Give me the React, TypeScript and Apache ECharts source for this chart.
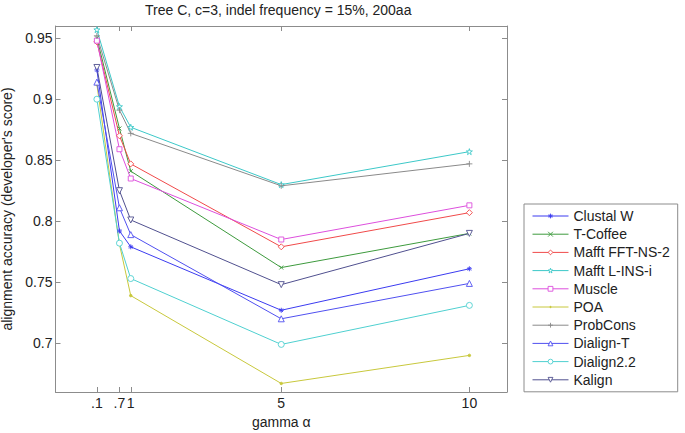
import React, { useEffect, useRef } from "react";
import * as echarts from "echarts";

const titleText = "Tree C, c=3, indel frequency = 15%, 200aa";
const xLabel = "gamma α";
const yLabel = "alignment accuracy (developer's score)";

const gammaValues = [0.1, 0.7, 1, 5, 10];
const yTicks = [0.7, 0.75, 0.8, 0.85, 0.9, 0.95];

const clustalW = [0.924, 0.792, 0.779, 0.727, 0.761];
const tCoffee = [0.95, 0.876, 0.841, 0.762, 0.79];
const mafftFFT = [0.947, 0.87, 0.847, 0.779, 0.807];
const mafftLINSi = [0.957, 0.894, 0.877, 0.83, 0.857];
const muscle = [0.948, 0.859, 0.835, 0.785, 0.813];
const poa = [0.912, 0.781, 0.739, 0.667, 0.69];
const probCons = [0.952, 0.891, 0.872, 0.829, 0.847];
const dialignT = [0.914, 0.811, 0.789, 0.72, 0.749];
const dialign22 = [0.9, 0.782, 0.753, 0.699, 0.731];
const kalign = [0.926, 0.825, 0.801, 0.748, 0.79];

const seriesNames = [
  "Clustal W",
  "T-Coffee",
  "Mafft FFT-NS-2",
  "Mafft L-INS-i",
  "Muscle",
  "POA",
  "ProbCons",
  "Dialign-T",
  "Dialign2.2",
  "Kalign",
];
const seriesValues = [clustalW, tCoffee, mafftFFT, mafftLINSi, muscle, poa, probCons, dialignT, dialign22, kalign];
const seriesColors = [
  "#3b3bf0",
  "#3d9a3d",
  "#f04a4a",
  "#3cc8c8",
  "#dd4fdd",
  "#c8c83c",
  "#8a8a8a",
  "#5050f0",
  "#4fd0d0",
  "#50508f",
];

const ASTERISK = "path://M5,0L5,10M0,5L10,5M1.5,1.5L8.5,8.5M1.5,8.5L8.5,1.5";
const XMARK = "path://M0,0L10,10M0,10L10,0";
const PLUS = "path://M5,0L5,10M0,5L10,5";
const STAR = "path://M5,0L6.18,3.82L10,3.82L6.91,6.18L8.09,10L5,7.64L1.91,10L3.09,6.18L0,3.82L3.82,3.82Z";
const DOT = "path://M0,0L0,0M10,10L10,10M3.6,5A1.4,1.4,0,1,1,6.4,5A1.4,1.4,0,1,1,3.6,5Z";
const DIAMOND = "path://M5,0L10,5L5,10L0,5Z";
const SQUARE = "path://M0,0L10,0L10,10L0,10Z";
const TRI_UP = "path://M5,0L10,9L0,9Z";
const TRI_DOWN = "path://M0,0L10,0L5,9Z";
const CIRCLE = "path://M0,5A5,5,0,1,1,10,5A5,5,0,1,1,0,5Z";

type MarkerDef = { symbol: string; size: number; hollow: boolean };
const markers: MarkerDef[] = [
  { symbol: ASTERISK, size: 5, hollow: false },
  { symbol: XMARK, size: 4, hollow: false },
  { symbol: DIAMOND, size: 6, hollow: true },
  { symbol: STAR, size: 6, hollow: true },
  { symbol: SQUARE, size: 5, hollow: true },
  { symbol: DOT, size: 9, hollow: false },
  { symbol: PLUS, size: 6, hollow: false },
  { symbol: TRI_UP, size: 6, hollow: true },
  { symbol: CIRCLE, size: 6, hollow: true },
  { symbol: TRI_DOWN, size: 6, hollow: true },
];

const axisColor = "#8c8c8c";
const font = "'Liberation Sans', Arial, sans-serif";

export default function App() {
  const ref = useRef<HTMLDivElement>(null);
  useEffect(() => {
    if (!ref.current) return;
    const chart = echarts.init(ref.current, undefined, { renderer: "svg" });
    const series = seriesNames.map((name, i) => {
      const c = seriesColors[i];
      const m = markers[i];
      return {
        type: "line",
        name,
        data: gammaValues.map((g, j) => [g, seriesValues[i][j]]),
        symbol: m.symbol,
        symbolSize: m.size,
        showAllSymbol: true,
        lineStyle: { color: c, width: 1 },
        itemStyle: { color: m.hollow ? "#fff" : c, borderColor: c, borderWidth: 0.9 },
        emphasis: { disabled: true },
        z: 2,
      };
    });
    const legendData = seriesNames.map((name, i) => ({
      name,
      itemStyle: {
        color: markers[i].hollow ? "#fff" : seriesColors[i],
        borderColor: seriesColors[i],
        borderWidth: 0.9,
      },
      lineStyle: { color: seriesColors[i], width: 1 },
    }));
    chart.setOption({
      animation: false,
      textStyle: { fontFamily: font },
      title: {
        text: titleText,
        left: 145,
        top: 3,
        padding: 0,
        textStyle: { fontSize: 14, fontWeight: "normal", color: "#222", fontFamily: font },
      },
      grid: { left: 55.5, top: 26, right: 178, bottom: 41, containLabel: false, outerBoundsMode: "none" },
      legend: {
        orient: "vertical",
        left: 524,
        top: 204,
        padding: [5, 8, 5, 8],
        borderColor: "#8c8c8c",
        borderWidth: 1,
        backgroundColor: "#fff",
        itemWidth: 36,
        itemHeight: 6,
        itemGap: 4.2,
        itemTextGap: 5,
        textStyle: { fontSize: 14, color: "#222", lineHeight: 14, padding: [0, 0, 0, 0], fontFamily: font },
        data: legendData,
        selectedMode: false,
      },
      xAxis: [
        {
          type: "value",
          min: -1,
          max: 11,
          position: "bottom",
          name: xLabel,
          nameLocation: "middle",
          nameGap: 13,
          nameTextStyle: { fontSize: 14, color: "#222" },
          axisLine: { show: true, onZero: false, lineStyle: { color: axisColor } },
          axisTick: { show: true, inside: true, length: 5, customValues: gammaValues, lineStyle: { color: axisColor } },
          axisLabel: {
            customValues: gammaValues,
            hideOverlap: false,
            margin: 4,
            fontSize: 14,
            color: "#222",
            formatter: (v: number) => (v < 1 ? String(v).replace(/^0/, "") : String(v)),
          },
          splitLine: { show: false },
        },
        {
          type: "value",
          min: -1,
          max: 11,
          position: "top",
          axisLine: { show: true, onZero: false, lineStyle: { color: axisColor } },
          axisTick: { show: true, inside: true, length: 5, customValues: gammaValues, lineStyle: { color: axisColor } },
          axisLabel: { show: false },
          splitLine: { show: false },
        },
      ],
      yAxis: [
        {
          type: "value",
          min: 0.66,
          max: 0.96,
          position: "left",
          name: yLabel,
          nameLocation: "middle",
          nameGap: 35,
          nameTextStyle: { fontSize: 14, color: "#222" },
          axisLine: { show: true, onZero: false, lineStyle: { color: axisColor } },
          axisTick: { show: true, inside: true, length: 5, customValues: yTicks, lineStyle: { color: axisColor } },
          axisLabel: {
            customValues: yTicks,
            margin: 3,
            fontSize: 14,
            color: "#222",
            formatter: (v: number) => String(Math.round(v * 100) / 100),
          },
          splitLine: { show: false },
        },
        {
          type: "value",
          min: 0.66,
          max: 0.96,
          position: "right",
          axisLine: { show: true, onZero: false, lineStyle: { color: axisColor } },
          axisTick: { show: true, inside: true, length: 5, customValues: yTicks, lineStyle: { color: axisColor } },
          axisLabel: { show: false },
          splitLine: { show: false },
        },
      ],
      series,
    });
    return () => chart.dispose();
  }, []);
  return (
    <div
      ref={ref}
      style={{ position: "fixed", left: 0, top: 0, width: 685, height: 433, background: "#fff" }}
    />
  );
}
